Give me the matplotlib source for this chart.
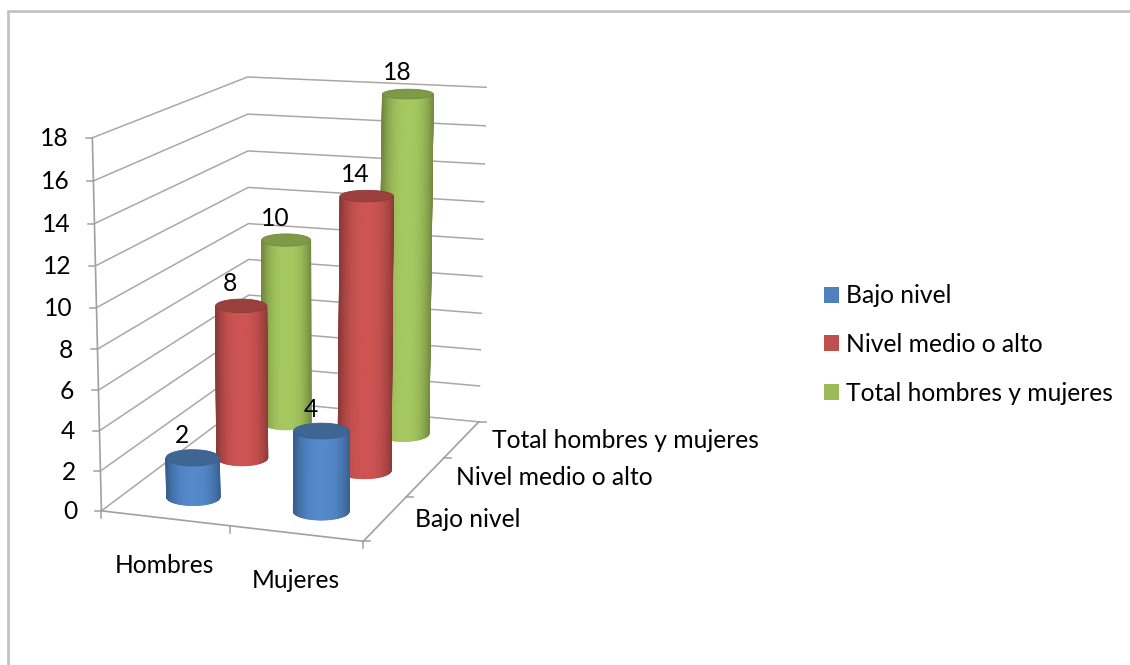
import numpy as np
import matplotlib
matplotlib.use("Agg")
import matplotlib.pyplot as plt
from matplotlib.collections import PolyCollection
from matplotlib.patches import Patch, Polygon

categories = ["Hombres", "Mujeres"]
series = ["Bajo nivel", "Nivel medio o alto", "Total hombres y mujeres"]
values_bajo = [2, 4]
values_medio = [8, 14]
values_total = [10, 18]
z_ticks = [0, 2, 4, 6, 8, 10, 12, 14, 16, 18]

legend_colors = ["#4f81bd", "#c0504d", "#9bbb59"]
center_colors = ["#5489ca", "#cd5452", "#a6c860"]
edge_colors = ["#375f8f", "#8c3a38", "#72893f"]
top_colors = ["#3f6592", "#9c403e", "#7e9a48"]
GRID = "#a8a8a8"
AXIS = "#a0a0a0"
FONT = "Lato"
FS = 17.7

W, H = 1130, 665
plt.rcParams["font.family"] = FONT
fig = plt.figure(figsize=(W / 100, H / 100), dpi=100)
ax = fig.add_axes([0, 0, 1, 1])
ax.set_xlim(0, W)
ax.set_ylim(H, 0)
ax.axis("off")

# camera of the chart box, solved from its visible corners
world = [(0, 0, 0), (2, 0, 0), (2, 3, 0), (0, 3, 0), (0, 0, 18), (0, 3, 18), (2, 3, 18)]
screen = [(103, 508), (362, 545), (480, 417), (248, 404), (92, 137), (248, 76), (486, 89)]
A, b = [], []
for (X, Y, Z), (u, v) in zip(world, screen):
    A.append([X, Y, Z, 1, 0, 0, 0, 0, -u * X, -u * Y, -u * Z]); b.append(u)
    A.append([0, 0, 0, 0, X, Y, Z, 1, -v * X, -v * Y, -v * Z]); b.append(v)
P = np.append(np.linalg.lstsq(np.array(A, float), np.array(b, float), rcond=None)[0], 1).reshape(3, 4)


def proj(X, Y, Z):
    X, Y, Z = np.broadcast_arrays(np.asarray(X, float), np.asarray(Y, float), np.asarray(Z, float))
    h = P @ np.stack([X.ravel(), Y.ravel(), Z.ravel(), np.ones(X.size)])
    return np.column_stack([h[0] / h[2], h[1] / h[2]])


# frame
ax.plot([W, 7.5, 7.5], [10.5, 10.5, H], color="#c0c0c0", lw=1.9, solid_joinstyle="miter", zorder=1)

# walls
for z in z_ticks:
    pts = proj([0, 0, 2], [0, 3, 3], [z, z, z])
    ax.plot(pts[:, 0], pts[:, 1], color=GRID, lw=1.1, zorder=2)
    ax.plot([pts[0, 0] - 6, pts[0, 0]], [pts[0, 1], pts[0, 1]], color=AXIS, lw=1.1, zorder=2)
    ax.text(pts[0, 0] - 24, pts[0, 1] + 1, str(z), ha="right", va="center", fontsize=FS, color="black", zorder=20)

# axis lines
for a_, b_ in [((0, 0, 0), (0, 0, 18)), ((0, 0, 0), (2, 0, 0)), ((2, 0, 0), (2, 3, 0))]:
    pts = proj(*zip(a_, b_))
    ax.plot(pts[:, 0], pts[:, 1], color=AXIS, lw=1.2, zorder=2)

# ticks on the floor
for X in range(3):
    p = proj(X, 0, 0)[0]
    ax.plot([p[0], p[0]], [p[1], p[1] + 7], color=AXIS, lw=1.1, zorder=2)
for Y in range(4):
    p = proj(2, Y, 0)[0]
    ax.plot([p[0], p[0] + 7], [p[1], p[1]], color=AXIS, lw=1.1, zorder=2)

# category / series labels
for i, name in enumerate(categories):
    p = proj(i + 0.5, 0, 0)[0]
    ax.text(p[0], p[1] + 47, name, ha="center", va="center", fontsize=FS, color="black", zorder=20)
for j, name in enumerate(series):
    p = proj(2, j + 0.5, 0)[0]
    ax.text(p[0] + 30, p[1] + 1, name, ha="left", va="center", fontsize=FS, color="black", zorder=20)

# cylinders, back to front
all_values = [values_bajo, values_medio, values_total]


def ring(c, a, t):
    bb = 4 + 0.009 * c[1]
    return np.column_stack([c[0] + a * np.cos(t), c[1] + bb * np.sin(t)])


def cylinder(i, j, v, z):
    cx, cy = i + 0.515, j + 0.5
    c_bot, c_top = proj(cx, cy, 0)[0], proj(cx, cy, v)[0]
    scale = proj(cx + 0.5, cy, 0)[0, 0] - proj(cx - 0.5, cy, 0)[0, 0]
    a = 0.213 * scale
    t = np.linspace(0, np.pi, 91)   # front half on screen (y grows downward)
    bot, top = ring(c_bot, a, t), ring(c_top, a, t)
    c0 = np.array(matplotlib.colors.to_rgb(center_colors[j]))
    c1 = np.array(matplotlib.colors.to_rgb(edge_colors[j]))
    quads, cols = [], []
    for k in range(90):
        quads.append([bot[k], bot[k + 1], top[k + 1], top[k]])
        d = abs(0.5 * (np.cos(t[k]) + np.cos(t[k + 1])))
        cols.append(c0 + (c1 - c0) * d ** 2.6)
    ax.add_collection(PolyCollection(quads, facecolors=cols, edgecolors=cols, linewidths=0.6, zorder=z))
    tt = np.linspace(0, 2 * np.pi, 121)
    ax.add_patch(Polygon(ring(c_top, a, tt), closed=True, facecolor=top_colors[j], edgecolor=edge_colors[j],
                         lw=0.6, zorder=z + 0.5))
    ax.text(c_top[0] - 11, c_top[1] - 22, str(v), ha="center", va="center", fontsize=FS, color="black", zorder=20)


z = 5
for j in [2, 1, 0]:
    for i in range(2):
        cylinder(i, j, all_values[j][i], z)
        z += 1

handles = [Patch(facecolor=c, edgecolor="none") for c in legend_colors]
ax.legend(handles, series, loc="upper left", bbox_to_anchor=(816.6, 277), bbox_transform=ax.transData,
          frameon=False, fontsize=FS, handlelength=0.61, handleheight=0.61, handletextpad=0.28,
          labelspacing=1.04, borderpad=0.3, borderaxespad=0)

fig.savefig("out.png", dpi=100, facecolor="white")
